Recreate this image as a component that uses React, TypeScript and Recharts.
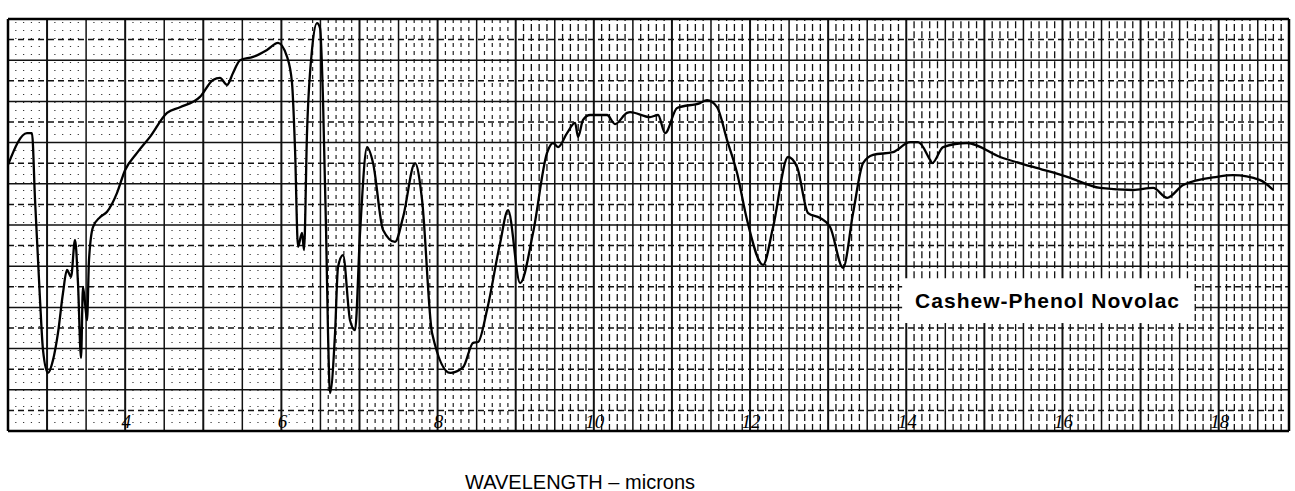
import { LineChart, Line, XAxis, YAxis, ReferenceLine, ReferenceArea } from 'recharts';

// wavelength in microns
const wavelength = [
  2.5, 2.743, 2.807, 2.846, 2.91, 2.948, 3.012, 3.076, 3.14, 3.204, 3.255, 3.307, 3.358, 3.396, 3.435, 3.46,
  3.499, 3.512, 3.537, 3.588, 3.678, 3.768, 3.896, 3.998, 4.152, 4.318, 4.536, 4.702, 4.958, 5.125, 5.214,
  5.304, 5.381, 5.471, 5.637, 5.816, 5.957, 6.073, 6.136, 6.175, 6.213, 6.264, 6.29, 6.328, 6.392, 6.456,
  6.495, 6.533, 6.572, 6.597, 6.623, 6.687, 6.725, 6.789, 6.879, 6.943, 7.007, 7.097, 7.174, 7.302, 7.455,
  7.558, 7.711, 7.801, 7.929, 8.161, 8.327, 8.455, 8.518, 8.633, 8.8, 8.902, 9.056, 9.222, 9.401, 9.478,
  9.542, 9.657, 9.76, 9.798, 9.862, 9.952, 10.169, 10.272, 10.425, 10.464, 10.72, 10.822, 10.912, 11.066,
  11.36, 11.45, 11.578, 11.706, 11.834, 11.962, 12.167, 12.295, 12.487, 12.602, 12.743, 12.897, 13.025,
  13.191, 13.319, 13.447, 13.575, 13.831, 14.049, 14.152, 14.305, 14.331, 14.472, 14.779, 15.202, 15.624,
  16.06, 16.482, 16.905, 17.161, 17.34, 17.545, 17.98, 18.185, 18.531, 18.697,
];

// percent transmittance
const transmittance = [
  64.6, 72.3, 72.3, 56.1, 31.8, 19.7, 14.1, 17.2, 23.8, 33.5, 39.1, 37.4, 46.4, 35.9, 17.7, 35.0,
  28.6, 26.9, 41.5, 49.5, 51.9, 53.2, 57.8, 63.3, 67.5, 71.4, 77.2, 78.6, 81.1, 85.2, 85.7,
  84.0, 86.9, 90.0, 90.8, 92.5, 94.2, 90.8, 84.5, 68.2, 44.7, 48.1, 43.9, 72.3, 92.5, 99.0,
  97.8, 80.3, 48.8, 23.8, 9.2, 23.8, 39.8, 42.7, 26.9, 24.5, 48.1, 68.9, 65.0, 48.8, 45.9,
  51.9, 65.0, 56.1, 23.8, 14.1, 15.5, 21.4, 21.6, 29.4, 45.6, 53.6, 35.9, 48.1, 67.5, 69.9,
  68.9, 72.3, 74.8, 71.4, 75.5, 76.7, 76.7, 74.5, 77.2, 77.4, 76.2, 76.7, 72.3, 78.4,
  79.6, 80.3, 78.6, 70.6, 62.6, 51.2, 40.3, 49.5, 66.5, 64.1, 52.9, 51.7, 49.5,
  39.6, 52.9, 65.0, 67.0, 67.7, 70.1, 70.1, 65.8, 65.0, 68.9, 69.9, 66.5, 64.1,
  61.7, 59.0, 58.5, 59.0, 56.6, 59.7, 61.7, 62.1, 60.9, 58.5,
];

const tickLabels = [4, 6, 8, 10, 12, 14, 16, 18];
const sampleName = 'Cashew-Phenol Novolac';

const X_MIN = 2.5;
const X_MAX = 18.9;
// white label box cut out of the chart paper
const BOX = { x1: 13.947, x2: 17.698, y1: 26.2, y2: 37.1 };

const data = wavelength.map((w, i) => ({ w, t: transmittance[i] }));

// chart paper: 0.1 micron rulings, heavier every 0.5, heaviest at whole microns
const vLines: number[] = [];
for (let k = 26; k <= 188; k++) vLines.push(k / 10);
const hLines: number[] = [];
for (let k = 1; k < 20; k++) hLines.push(k * 5);

const vStyle = (v: number) => {
  const tenths = Math.round(v * 10);
  if (tenths % 10 === 0) return { stroke: '#111', strokeWidth: 2 };
  if (tenths % 5 === 0) return { stroke: '#111', strokeWidth: 1.5 };
  if (v < 6.4) return { stroke: '#333', strokeWidth: 1.2, strokeDasharray: '1 7' };
  if (v < 9) return { stroke: '#222', strokeWidth: 1.2, strokeDasharray: '4 4' };
  return { stroke: '#111', strokeWidth: 1.3, strokeDasharray: '7 3' };
};

const hStyle = (h: number) => ({
  stroke: '#111',
  strokeWidth: 1.5,
  strokeDasharray: h % 10 === 0 ? undefined : '6 4',
});

// split rulings that cross the label box so the box stays clean
const vSegments = (v: number) =>
  v > BOX.x1 && v < BOX.x2
    ? [
        [0, BOX.y1],
        [BOX.y2, 100],
      ]
    : [[0, 100]];

const hSegments = (h: number) =>
  h > BOX.y1 && h < BOX.y2
    ? [
        [X_MIN, BOX.x1],
        [BOX.x2, X_MAX],
      ]
    : [[X_MIN, X_MAX]];

const WaveTick = ({ x, y, payload }: { x?: number; y?: number; payload?: { value: number } }) => (
  <text
    x={(x ?? 0) + 1}
    y={(y ?? 0) - 11}
    textAnchor="middle"
    fontFamily="Liberation Serif"
    fontStyle="italic"
    fontSize={19}
    fill="#000"
  >
    {payload?.value}
  </text>
);

const NameLabel = ({ viewBox }: { viewBox?: { x: number; y: number } }) => (
  <text
    x={(viewBox?.x ?? 0) + 13}
    y={(viewBox?.y ?? 0) + 30}
    fontFamily="Liberation Sans"
    fontWeight="bold"
    fontSize={21}
    letterSpacing={1}
    fill="#000"
  >
    {sampleName}
  </text>
);

export default function App() {
  return (
    <div style={{ position: 'absolute', left: 0, top: 0, width: 1295, height: 491, background: '#fff' }}>
      <LineChart width={1295} height={491} data={data} margin={{ top: 19, right: 6, left: 8, bottom: 30 }}>
        <XAxis
          dataKey="w"
          type="number"
          domain={[X_MIN, X_MAX]}
          ticks={tickLabels}
          allowDataOverflow
          axisLine={false}
          tickLine={false}
          height={30}
          tick={<WaveTick />}
        />
        <YAxis type="number" domain={[0, 100]} hide />
        <ReferenceArea
          x1={BOX.x1}
          x2={BOX.x2}
          y1={BOX.y1}
          y2={BOX.y2}
          fill="#fff"
          fillOpacity={1}
          stroke="none"
          label={<NameLabel />}
        />
        {vLines.flatMap((v) =>
          vSegments(v).map(([a, b]) => (
            <ReferenceLine
              key={`v${v}-${a}`}
              segment={[
                { x: v, y: a },
                { x: v, y: b },
              ]}
              {...vStyle(v)}
            />
          ))
        )}
        {hLines.flatMap((h) =>
          hSegments(h).map(([a, b]) => (
            <ReferenceLine
              key={`h${h}-${a}`}
              segment={[
                { x: a, y: h },
                { x: b, y: h },
              ]}
              {...hStyle(h)}
            />
          ))
        )}
        <ReferenceLine x={X_MIN} stroke="#000" strokeWidth={2.5} />
        <ReferenceLine x={X_MAX} stroke="#000" strokeWidth={2.5} />
        <ReferenceLine y={0} stroke="#000" strokeWidth={2.5} />
        <ReferenceLine y={100} stroke="#000" strokeWidth={2.5} />
        <Line
          type="monotone"
          dataKey="t"
          stroke="#000"
          strokeWidth={2.3}
          dot={false}
          isAnimationActive={false}
        />
      </LineChart>
      <div
        style={{
          position: 'absolute',
          left: 465,
          top: 472,
          fontFamily: 'Liberation Sans',
          fontSize: 20,
          lineHeight: '20px',
          color: '#000',
          whiteSpace: 'nowrap',
        }}
      >
        WAVELENGTH – microns
      </div>
    </div>
  );
}
